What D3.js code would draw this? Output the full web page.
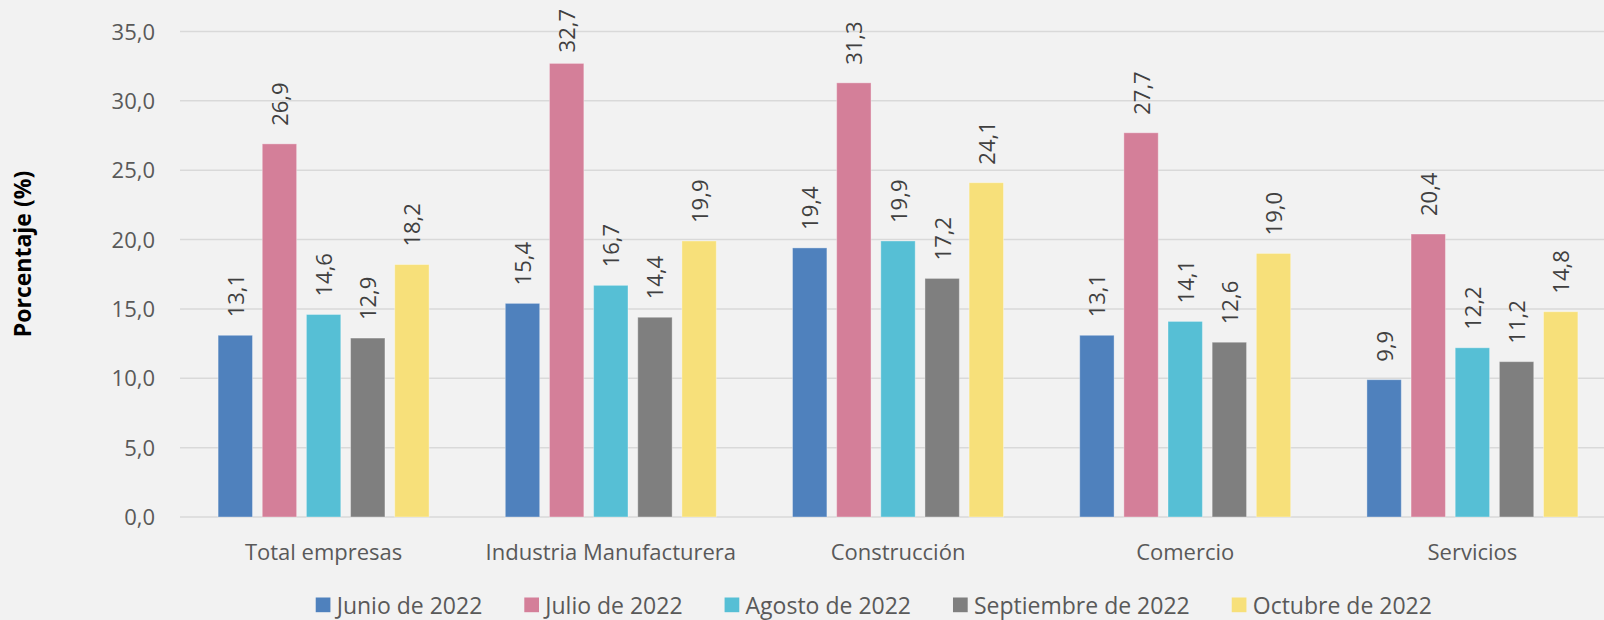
<!DOCTYPE html>
<html>
<head>
<meta charset="utf-8">
<script src="https://cdn.jsdelivr.net/npm/d3@7"></script>
<style>
  html, body { margin: 0; padding: 0; background: #f2f2f2; }
  svg { display: block; }
  text { font-family: "Open Sans", "Noto Sans", sans-serif; }
</style>
</head>
<body>
<svg id="chart" width="1604" height="620"></svg>
<script>
const categories = ["Total empresas", "Industria Manufacturera", "Construcción", "Comercio", "Servicios"];
const seriesNames = ["Junio de 2022", "Julio de 2022", "Agosto de 2022", "Septiembre de 2022", "Octubre de 2022"];
const junio      = [13.1, 15.4, 19.4, 13.1, 9.9];
const julio      = [26.9, 32.7, 31.3, 27.7, 20.4];
const agosto     = [14.6, 16.7, 19.9, 14.1, 12.2];
const septiembre = [12.9, 14.4, 17.2, 12.6, 11.2];
const octubre    = [18.2, 19.9, 24.1, 19.0, 14.8];
const yTicks = [0, 5, 10, 15, 20, 25, 30, 35];
const colors = ["#4f81bd", "#d47f99", "#56bfd5", "#7f7f7f", "#f7e07a"];

const seriesValues = [junio, julio, agosto, septiembre, octubre];

const W = 1604, H = 620;
const svg = d3.select("#chart");
svg.append("rect").attr("width", W).attr("height", H).attr("fill", "#f2f2f2");

const x0 = d3.scaleBand().domain(categories).range([180, 1616]).padding(0);
const x1 = d3.scaleBand().domain(seriesNames).range([0, x0.bandwidth()])
  .paddingInner(0.221).paddingOuter(0.863);
const y = d3.scaleLinear().domain([0, 35]).range([517, 31.5]);

const fmt = v => d3.format(".1f")(v).replace(".", ",");

// gridlines
svg.append("g").selectAll("line").data(yTicks).join("line")
  .attr("x1", 180).attr("x2", W)
  .attr("y1", d => y(d)).attr("y2", d => y(d))
  .attr("stroke", "#d9d9d9").attr("stroke-width", 1.5);

// y axis tick labels
const yAxis = d3.axisLeft(y).tickValues(yTicks).tickFormat(fmt).tickSize(0).tickPadding(0);
const gy = svg.append("g").attr("transform", "translate(155,0)").call(yAxis);
gy.select(".domain").remove();
gy.selectAll("text").attr("fill", "#595959").style("font-size", "22px")
  .style("font-family", "'Open Sans', sans-serif").attr("dy", "0.35em");

// y title
svg.append("text")
  .attr("transform", "translate(31,254) rotate(-90)")
  .attr("text-anchor", "middle")
  .style("font-size", "23px").style("font-weight", "bold").attr("fill", "#000")
  .text("Porcentaje (%)");

// x axis labels
const xAxis = d3.axisBottom(x0).tickSize(0).tickPadding(0);
const gx = svg.append("g").attr("transform", "translate(0,560)").call(xAxis);
gx.select(".domain").remove();
gx.selectAll("text").attr("fill", "#595959").style("font-size", "22px")
  .style("font-family", "'Open Sans', sans-serif").attr("dy", "0");

// bars
const flat = [];
categories.forEach((c, i) => {
  seriesNames.forEach((s, j) => flat.push({ cat: c, ser: s, j: j, v: seriesValues[j][i] }));
});

svg.append("g").selectAll("rect").data(flat).join("rect")
  .attr("x", d => x0(d.cat) + x1(d.ser))
  .attr("y", d => y(d.v))
  .attr("width", x1.bandwidth())
  .attr("height", d => y(0) - y(d.v))
  .attr("fill", d => colors[d.j])
  .attr("stroke", "rgba(255,255,255,0.35)").attr("stroke-width", 1);

// data labels
const labels = svg.append("g").selectAll("text").data(flat).join("text")
  .style("font-size", "22px").attr("fill", "#404040")
  .text(d => fmt(d.v));
labels.each(function(d) {
  const len = this.getComputedTextLength();
  let start = y(d.v) - 18;
  if (start - len < 9) start = 9 + len;
  const cx = x0(d.cat) + x1(d.ser) + x1.bandwidth() / 2 + 8.5;
  d3.select(this).attr("transform", `translate(${cx},${start}) rotate(-90)`);
});

// legend
const legend = svg.append("g");
const items = legend.selectAll("g").data(seriesNames).join("g");
items.append("rect").attr("width", 14.7).attr("height", 14.7)
  .attr("y", 597.5).attr("fill", (d, i) => colors[i]);
items.append("text").attr("x", 21).attr("y", 613.5)
  .style("font-size", "23px").attr("fill", "#595959").text(d => d);
const widths = [];
items.each(function() { widths.push(21 + d3.select(this).select("text").node().getComputedTextLength()); });
const gap = 42;
const total = d3.sum(widths) + gap * (widths.length - 1);
let cur = 873.8 - total / 2;
items.each(function(d, i) {
  d3.select(this).attr("transform", `translate(${cur},0)`);
  cur += widths[i] + gap;
});
</script>
</body>
</html>
